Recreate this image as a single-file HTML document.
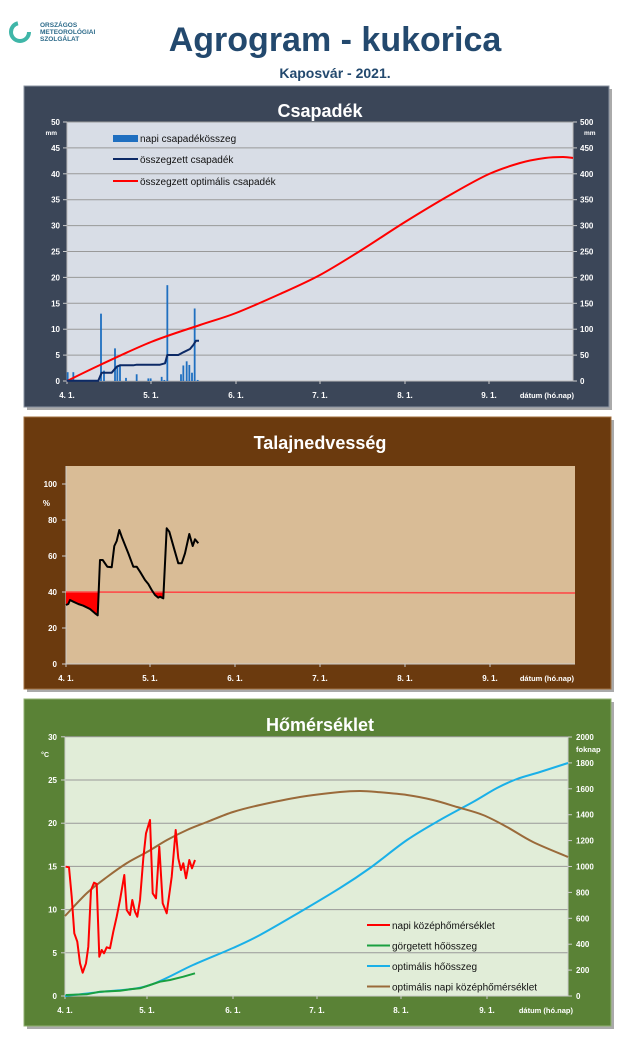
<!DOCTYPE html>
<html><head><meta charset="utf-8"><style>
body{margin:0;background:#fff;width:640px;height:1047px;overflow:hidden;font-family:"Liberation Sans",sans-serif}
svg{position:absolute;left:0;top:0}
</style></head><body>
<svg id="s" width="640" height="1047" xmlns="http://www.w3.org/2000/svg" font-family="Liberation Sans, sans-serif">
<circle cx="20" cy="32" r="9" fill="none" stroke="#3fb6a8" stroke-width="4" stroke-dasharray="40 20"/>
<text x="40" y="27" font-size="6.5" fill="#2d6b8a" font-weight="bold">ORSZÁGOS</text>
<text x="40" y="34" font-size="6.5" fill="#2d6b8a" font-weight="bold">METEOROLÓGIAI</text>
<text x="40" y="41" font-size="6.5" fill="#2d6b8a" font-weight="bold">SZOLGÁLAT</text>
<text x="335" y="51" font-size="34" font-weight="bold" fill="#23496e" text-anchor="middle">Agrogram - kukorica</text>
<text x="335" y="78" font-size="14" font-weight="bold" fill="#23496e" text-anchor="middle">Kaposvár - 2021.</text>
<rect x="27" y="89" width="585" height="321" fill="#aaa"/>
<rect x="24" y="86" width="585" height="321" fill="#3b4658" stroke="#8a93a0" stroke-width="1"/>
<rect x="27" y="420" width="587" height="272" fill="#aaa"/>
<rect x="24" y="417" width="587" height="272" fill="#6b3a0e" stroke="#a07040" stroke-width="1"/>
<rect x="27" y="702" width="587" height="327" fill="#aaa"/>
<rect x="24" y="699" width="587" height="327" fill="#5a8236" stroke="#90b070" stroke-width="1"/>
<text x="320" y="117" font-size="18" font-weight="bold" fill="#fff" text-anchor="middle">Csapadék</text>
<text x="320" y="449" font-size="18" font-weight="bold" fill="#fff" text-anchor="middle">Talajnedvesség</text>
<text x="320" y="731" font-size="18" font-weight="bold" fill="#fff" text-anchor="middle">Hőmérséklet</text>
<rect x="67" y="122" width="506" height="259" fill="#d8dde6"/>
<rect x="66" y="466" width="509" height="198" fill="#d9bc96"/>
<rect x="65" y="737" width="503" height="259" fill="#e1edd8"/>
<g id="g"></g>
</svg>
<script>
var g=document.getElementById('g'),h='';
function L(x1,y1,x2,y2,c,w){h+='<line x1="'+x1+'" y1="'+y1+'" x2="'+x2+'" y2="'+y2+'" stroke="'+c+'" stroke-width="'+(w||1)+'"/>';}
function T(x,y,t,a,s,c,nb){h+='<text x="'+x+'" y="'+y+'" font-size="'+(s||8)+'"'+(nb?'':' font-weight="bold"')+' fill="'+(c||'#fff')+'" text-anchor="'+(a||'end')+'">'+t+'</text>';}
function P(pts,ox,oy,c,w,fill){var d=pts.map(function(p,i){return (i?'L':'M')+(ox+p[0]/3).toFixed(1)+','+(oy+p[1]/3).toFixed(1)}).join('');h+='<path d="'+d+(fill?'Z':'')+'" fill="'+(fill||'none')+'" stroke="'+c+'" stroke-width="'+w+'" stroke-linejoin="round"/>';}
function S(p,c,w){var d='M'+p[0][0]+','+p[0][1];for(var i=0;i<p.length-1;i++){var p0=p[i-1]||p[i],p1=p[i],p2=p[i+1],p3=p[i+2]||p2;
d+='C'+(p1[0]+(p2[0]-p0[0])/6).toFixed(1)+','+(p1[1]+(p2[1]-p0[1])/6).toFixed(1)+' '+(p2[0]-(p3[0]-p1[0])/6).toFixed(1)+','+(p2[1]-(p3[1]-p1[1])/6).toFixed(1)+' '+p2[0]+','+p2[1];}
h+='<path d="'+d+'" fill="none" stroke="'+c+'" stroke-width="'+w+'"/>';}
var dates=['4. 1.','5. 1.','6. 1.','7. 1.','8. 1.','9. 1.'];
for(var i=0;i<=10;i++){var y=381-i*25.9;if(i>0)L(67,y,573,y,'#999');T(60,y+3,i*5);T(580,y+3,i*50,'start');L(63,y,67,y,'#ccc');L(573,y,577,y,'#ccc');}
T(57,135,'mm','end',6.5);T(584,135,'mm','start',6.5);
L(67,122,67,381,'#bbb');L(573,122,573,381,'#bbb');L(67,381,573,381,'#bbb');
var xs=[67,151,236,320,405,489];
xs.forEach(function(x,i){T(x,398,dates[i],'middle');L(x,381,x,384,'#ccc')});
T(574,398,'dátum (hó.nap)','end',7.5);
var bars=[[143,1.7],[160,1.7],[243,13],[252,2],[285,6.3],[292,2.9],[300,3.2],[318,.6],[350,1.3],[385,.5],[392,.5],[425,.8],[433,.2],[442,18.5],[483,1.3],[490,3],[500,3.8],[508,3.1],[516,1.6],[524,14],[533,.2]];
bars.forEach(function(b){var x=20+b[0]/3,hh=b[1]*5.18;h+='<rect x="'+(x-0.9)+'" y="'+(381-hh)+'" width="1.8" height="'+hh+'" fill="#1f6fc0"/>';});
S([[67,381],[100,365],[151,342],[200,325],[236,313],[280,294],[320,275],[360,251],[405,222],[450,195],[489,174],[520,163],[545,158],[563,157],[573,158]],'#f00',2);
P([[140,812],[235,812],[245,788],[275,788],[290,770],[300,766],[340,766],[350,764],[420,764],[435,760],[442,735],[475,735],[490,727],[510,717],[520,705],[528,692],[537,692]],20,110,'#0d2a66',2);
h+='<rect x="113" y="135" width="25" height="7" fill="#1f6fc0"/>';
L(113,159,138,159,'#0d2a66',2);L(113,181,138,181,'#f00',2);
T(140,142,'napi csapadékösszeg','start',10,'#111',1);T(140,163,'összegzett csapadék','start',10,'#111',1);T(140,185,'összegzett optimális  csapadék','start',10,'#111',1);
for(i=0;i<=5;i++){y=664-i*36;T(57,y+3,i*20);L(62,y,66,y,'#ccc');}
T(50,506,'%','end',8);
L(66,466,66,664,'#ccc');L(66,664,575,664,'#ccc');
var xs2=[66,150,235,320,405,490];xs2.forEach(function(x,i){T(x,681,dates[i],'middle');L(x,664,x,667,'#ccc')});
T(574,681,'dátum (hó.nap)','end',7.5);
var soil=[[138,435],[145,432],[150,420],[160,425],[175,432],[190,437],[210,447],[225,460],[233,466],[240,300],[248,300],[262,320],[275,322],[283,258],[290,243],[298,210],[305,230],[325,280],[340,320],[350,320],[360,335],[375,360],[385,372],[395,390],[405,405],[415,413],[420,410],[430,415],[440,205],[448,215],[462,265],[475,310],[485,310],[495,280],[508,222],[518,258],[525,238],[535,250]];
P([[138,397]].concat(soil.slice(0,9)).concat([[236,397]]),20,460,'none',0,'#f00');
P([[393,397],[395,390],[405,405],[415,413],[420,410],[430,415],[433,397]],20,460,'none',0,'#f00');
L(66,592,575,593,'#f44',1.5);
P(soil,20,460,'#000',2);
for(i=0;i<=6;i++){y=996-i*43.2;if(i>0)L(65,y,568,y,'#999');T(57,y+3,i*5);L(61,y,65,y,'#ccc');}
for(i=0;i<=10;i++){y=996-i*25.9;T(576,y+3,i*200,'start');L(568,y,572,y,'#ccc');}
T(49,757,'°C','end',7);T(576,752,'foknap','start',7.5);
L(65,737,65,996,'#ccc');L(568,737,568,996,'#ccc');L(65,996,568,996,'#ccc');
var xs3=[65,147,233,317,401,487];xs3.forEach(function(x,i){T(x,1013,dates[i],'middle');L(x,996,x,999,'#ccc')});
T(573,1013,'dátum (hó.nap)','end',7.5);
S([[65,996],[100,992],[147,986],[193,965],[233,948],[260,935],[300,912],[340,888],[370,868],[407,840],[440,820],[473,802],[497,788],[517,779],[540,772],[568,763]],'#1ab0e8',2);
P([[137,795],[200,793],[240,785],[300,782],[330,778],[360,775],[390,765],[420,755],[450,750],[490,740],[525,730]],20,730,'#1aa040',2);
S([[65,916],[87,893],[107,877],[127,863],[147,852],[167,840],[187,830],[207,822],[233,812],[260,805],[300,797],[340,792],[360,791],[377,792],[407,795],[433,800],[457,807],[483,815],[507,827],[533,842],[568,857]],'#9a6a3a',2);
P([[137,410],[147,412],[155,500],[163,610],[172,635],[180,700],[188,728],[198,700],[205,650],[213,480],[222,458],[230,462],[238,680],[245,660],[252,670],[260,652],[270,655],[280,605],[290,560],[300,510],[313,435],[320,540],[330,555],[337,510],[345,545],[352,560],[360,510],[370,385],[378,310],[390,270],[398,490],[408,505],[418,350],[428,520],[440,550],[455,440],[467,300],[475,385],[483,420],[490,400],[498,445],[508,390],[516,415],[525,390]],20,730,'#f00',2);
var lg=[['#f00','napi középhőmérséklet'],['#1aa040','görgetett hőösszeg'],['#1ab0e8','optimális hőösszeg'],['#9a6a3a','optimális napi középhőmérséklet']];
lg.forEach(function(l,i){var y=925+i*20.5;L(367,y,390,y,l[0],2);T(392,y+4,l[1],'start',10,'#111',1);});
g.innerHTML=h;
</script>
</body></html>
